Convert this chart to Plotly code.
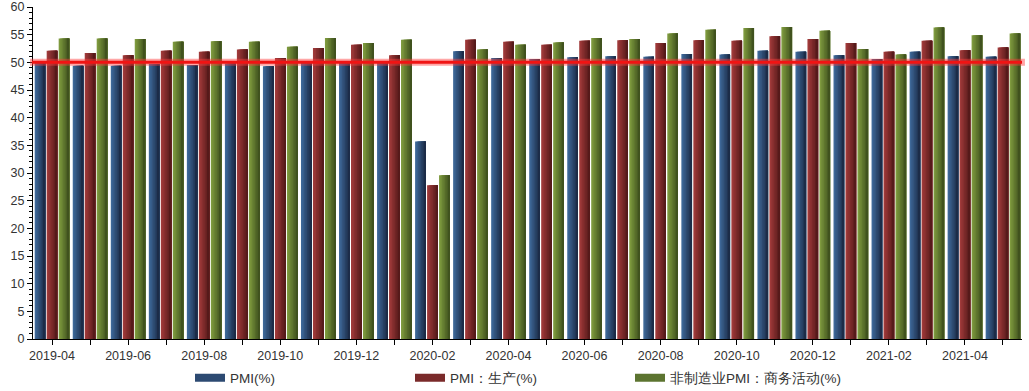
import plotly.graph_objects as go

months = ["2019-04", "2019-05", "2019-06", "2019-07", "2019-08", "2019-09", "2019-10",
          "2019-11", "2019-12", "2020-01", "2020-02", "2020-03", "2020-04", "2020-05",
          "2020-06", "2020-07", "2020-08", "2020-09", "2020-10", "2020-11", "2020-12",
          "2021-01", "2021-02", "2021-03", "2021-04", "2021-05"]
pmi = [50.1, 49.4, 49.4, 49.7, 49.5, 49.8, 49.3, 50.2, 50.2, 50.0, 35.7, 52.0, 50.8,
       50.6, 50.9, 51.1, 51.0, 51.5, 51.4, 52.1, 51.9, 51.3, 50.6, 51.9, 51.1, 51.0]
pmi_prod = [52.1, 51.7, 51.3, 52.1, 51.9, 52.3, 50.8, 52.6, 53.2, 51.3, 27.8, 54.1, 53.7,
            53.2, 53.9, 54.0, 53.5, 54.0, 53.9, 54.7, 54.2, 53.5, 51.9, 53.9, 52.2, 52.7]
nonmfg = [54.3, 54.3, 54.2, 53.7, 53.8, 53.7, 52.8, 54.4, 53.5, 54.1, 29.6, 52.3, 53.2,
          53.6, 54.4, 54.2, 55.2, 55.9, 56.2, 56.4, 55.7, 52.4, 51.4, 56.3, 54.9, 55.2]
series_names = ["PMI(%)", "PMI：生产(%)", "非制造业PMI：商务活动(%)"]
tick_labels = [m if i % 2 == 0 else "" for i, m in enumerate(months)]
ref_value = 50

x = list(range(len(months)))

# gradient (light -> dark) per series
grads = [
    ((62, 104, 152), (28, 44, 72)),
    ((160, 58, 58), (86, 26, 26)),
    ((126, 154, 62), (64, 82, 30)),
]
legend_cols = ["#2c4a72", "#7a2a2a", "#5c7430"]
offsets = [-0.455, -0.14, 0.175]
bw = 0.28
N = 7

fig = go.Figure()
for s, vals in enumerate([pmi, pmi_prod, nonmfg]):
    c0, c1 = grads[s]
    for k in range(N):
        t = k / (N - 1)
        col = "rgb(%d,%d,%d)" % tuple(round(c0[j] + (c1[j] - c0[j]) * t) for j in range(3))
        off = offsets[s] + bw * k / N
        w = bw - bw * k / N
        fig.add_trace(go.Bar(
            x=x, y=vals, width=w, offset=off,
            marker=dict(color=col, line=dict(width=0)),
            showlegend=False, hoverinfo="skip" if k else None,
            name=series_names[s],
        ))

for s in range(3):
    fig.add_trace(go.Scatter(
        x=[None], y=[None], mode="lines", name=series_names[s],
        line=dict(color=legend_cols[s], width=8),
    ))

# reference line at 50
fig.add_shape(type="line", xref="paper", yref="y", x0=-0.003, x1=1.003, y0=ref_value, y1=ref_value,
              line=dict(color="rgba(255,60,60,0.45)", width=7), layer="above")
fig.add_shape(type="line", xref="paper", yref="y", x0=-0.001, x1=1.0, y0=ref_value, y1=ref_value,
              line=dict(color="rgb(240,20,20)", width=3), layer="above")

fig.update_layout(
    width=1029, height=391,
    margin=dict(l=33, r=7, t=7, b=52, autoexpand=False),
    paper_bgcolor="white", plot_bgcolor="white",
    barmode="overlay",
    font=dict(family="Liberation Sans, Arial, sans-serif", size=12, color="#333"),
    showlegend=True,
    legend=dict(orientation="h", xref="container", yref="container",
                x=190 / 1029, xanchor="left", y=13 / 391, yanchor="middle",
                entrywidth=175, entrywidthmode="pixels",
                font=dict(size=13.5, color="#333"), itemclick=False),
)
fig.update_xaxes(
    range=[-0.5, len(months) - 0.5], automargin=False,
    tickmode="array", tickvals=x, ticktext=tick_labels,
    showline=True, linecolor="#000", linewidth=1,
    ticks="outside", ticklen=5, tickcolor="#000",
    showgrid=False, zeroline=False,
    tickfont=dict(size=12.5, color="#333"),
)
fig.update_yaxes(
    range=[0, 60], dtick=5, tick0=0, automargin=False,
    showline=True, linecolor="#000", linewidth=1,
    ticks="outside", ticklen=5, tickcolor="#000",
    minor=dict(dtick=1, ticks="outside", ticklen=3, tickcolor="#000"),
    showgrid=False, zeroline=False,
    tickfont=dict(size=12.5, color="#333"),
)

fig.write_html("out.html", config={"displayModeBar": False},
               post_script="document.body.style.margin='0';document.body.style.overflow='hidden';")
